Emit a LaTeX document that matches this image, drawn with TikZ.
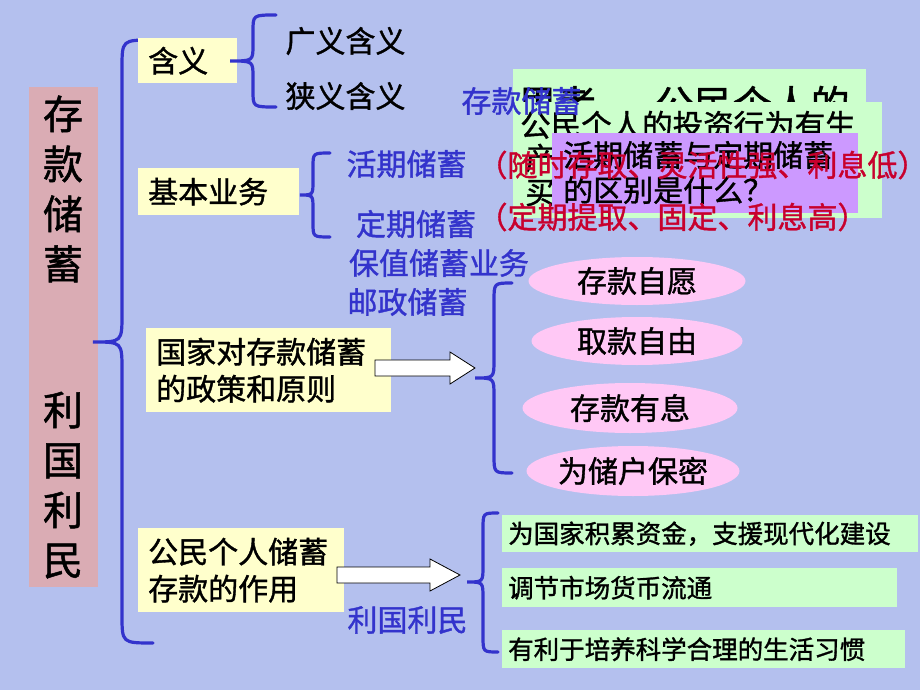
\documentclass[tikz,border=0pt]{standalone}
\usepackage{fontspec}
\setmainfont{Noto Sans CJK SC}[FakeBold=1.2]
\usetikzlibrary{shapes.geometric}

\definecolor{bgblue}{RGB}{180,192,238}
\definecolor{boxyellow}{RGB}{255,255,204}
\definecolor{boxgreen}{RGB}{204,255,204}
\definecolor{boxpurple}{RGB}{204,153,255}
\definecolor{ovalpink}{RGB}{255,200,245}
\definecolor{titlepink}{RGB}{218,172,180}
\definecolor{txtblue}{RGB}{51,51,204}
\definecolor{txtred}{RGB}{200,0,45}

\tikzset{
  titlebox/.style={fill=titlepink, minimum width=69pt, minimum height=500pt, align=center,
    inner sep=0pt, font=\fontsize{40}{50}\selectfont},
  ybox/.style={fill=boxyellow, anchor=north west, inner xsep=10pt, inner ysep=0pt, align=left,
    font=\fontsize{30}{37}\selectfont},
  gbox/.style={fill=boxgreen, anchor=north west, inner xsep=6pt, inner ysep=0pt, align=left,
    font=\fontsize{25.5}{30}\selectfont},
  oval/.style={ellipse, fill=ovalpink, inner sep=0pt, minimum height=48pt,
    font=\fontsize{30}{36}\selectfont},
  plain/.style={inner sep=0pt, font=\fontsize{30}{36}\selectfont},
  bluetxt/.style={plain, text=txtblue},
  redtxt/.style={plain, text=txtred},
  bracel/.style={draw=txtblue, line width=3.2pt, line cap=round},
  blockarr/.style={draw=black, fill=white, line width=0.8pt},
}

\begin{document}
\begin{tikzpicture}[x=1pt,y=-1pt]
\useasboundingbox (0,0) rectangle (920,690);
\fill[bgblue] (0,0) rectangle (920,690);

% title column
\node[titlebox] (title) at (63,337) {存\\款\\储\\蓄\\[96pt]利\\国\\利\\民};
\draw[bracel] (153,40) .. controls (122,40) .. (122,68) -- (122,314) .. controls (122,342) .. (93,342)
  .. controls (122,342) .. (122,370) -- (122,615) .. controls (122,643) .. (153,643);

% branches
\node[ybox, minimum height=45pt, text width=79pt] (meaning) at (138,38) {含义};
\node[ybox, minimum height=47pt, text width=141pt] (business) at (138,168) {基本业务};
\node[ybox, minimum height=84pt, text width=225pt] (policy) at (146,328) {国家对存款储蓄\\的政策和原则};
\node[ybox, minimum height=84pt, text width=186pt] (role) at (138,528) {公民个人储蓄\\存款的作用};

% meaning
\draw[bracel] (276,15) .. controls (253,15) .. (253,31) -- (253,45) .. controls (253,61) .. (230,61)
  .. controls (253,61) .. (253,77) -- (253,91) .. controls (253,107) .. (276,107);
\node[plain] (broad) at (345.5,41) {广义含义};
\node[plain] (narrow) at (345.5,96) {狭义含义};

% business
\draw[bracel] (330,153) .. controls (313,153) .. (313,167) -- (313,181) .. controls (313,195) .. (300,195)
  .. controls (313,195) .. (313,209) -- (313,223) .. controls (313,237) .. (330,237);
\node[bluetxt] (current) at (406.5,164) {活期储蓄};
\node[bluetxt] (fixed) at (416,224) {定期储蓄};
\node[bluetxt] (hedged) at (439,263) {保值储蓄业务};
\node[bluetxt] (postal) at (407.5,302) {邮政储蓄};

% principles
\coordinate (arr1) at (375,368);
\draw[blockarr] (arr1) ++(0,-8) -- ++(75,0) -- ++(0,-8) -- ++(25,16) -- ++(-25,16) -- ++(0,-8) -- ++(-75,0) -- cycle;
\draw[bracel] (512,283) .. controls (494,283) .. (494,301) -- (494,360) .. controls (494,378) .. (475,378)
  .. controls (494,378) .. (494,396) -- (494,455) .. controls (494,473) .. (512,473);
\node[oval, minimum width=217pt] (willing) at (637,281) {存款自愿};
\node[oval, minimum width=211pt] (free) at (637,341) {取款自由};
\node[oval, minimum width=215pt, minimum height=50pt] (interest) at (630,408) {存款有息};
\node[oval, minimum width=213pt, minimum height=50pt] (secret) at (633,471) {为储户保密};

% role
\coordinate (arr2) at (337,575);
\draw[blockarr] (arr2) ++(0,-8) -- ++(93,0) -- ++(0,-8) -- ++(30,16) -- ++(-30,16) -- ++(0,-8) -- ++(-93,0) -- cycle;
\node[bluetxt] (benefit) at (407.5,620) {利国利民};
\draw[bracel] (498,513) .. controls (483,513) .. (483,529) -- (483,566) .. controls (483,582) .. (467,582)
  .. controls (483,582) .. (483,598) -- (483,636) .. controls (483,652) .. (498,652);
\node[gbox, minimum height=37pt, text width=404pt] (fund) at (502,515) {为国家积累资金，支援现代化建设};
\node[gbox, minimum height=39pt, text width=383pt] (money) at (502,568) {调节市场货币流通};
\node[gbox, minimum height=38pt, text width=391pt] (habit) at (502,630) {有利于培养科学合理的生活习惯};

% stacked notes
\fill[boxgreen] (513,69) rectangle (866,160);
\node[plain, anchor=west, font=\fontsize{39}{39}\selectfont] (think) at (518,104) {思考\hspace{1.5em}公民个人的};
\fill[boxgreen] (513,102) rectangle (882,218);
\node[plain, anchor=west, font=\fontsize{30.5}{36}\selectfont] (invest) at (520,125) {公民个人的投资行为有生};
\node[plain, anchor=west, font=\fontsize{30.5}{36}\selectfont] (chan) at (525,158) {产};
\node[plain, anchor=west, font=\fontsize{30.5}{36}\selectfont] (mai) at (525,193) {买};
\fill[boxpurple] (552,133) rectangle (858,213);
\node[plain, anchor=west] (ask1) at (563,155) {活期储蓄与定期储蓄};
\node[plain, anchor=west] (ask2) at (563,190) {的区别是什么？};
\node[redtxt] (currentnote) at (702.5,165) {（随时存取、灵活性强、利息低）};
\node[redtxt] (fixednote) at (672.5,217) {（定期提取、固定、利息高）};
\node[bluetxt] (saving) at (521.5,101) {存款储蓄};

\end{tikzpicture}
\end{document}
